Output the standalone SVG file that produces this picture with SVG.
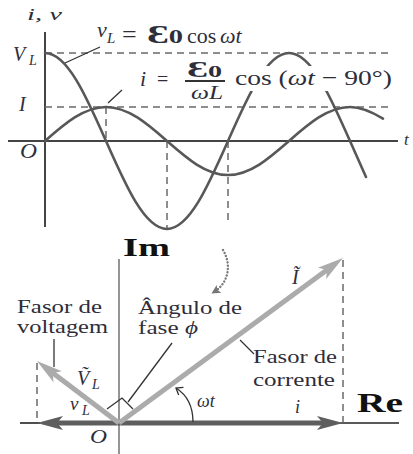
<svg xmlns="http://www.w3.org/2000/svg" width="413" height="454" viewBox="0 0 413 454">
<style>
text{font-family:"Liberation Serif","DejaVu Serif",serif;fill:#2e2e3a}
.it{font-style:italic}
.bd{font-weight:bold}
.ax{stroke:#444;stroke-width:2;fill:none}
.curve{stroke:#585858;stroke-width:2.6;fill:none;stroke-linecap:round}
.dash{stroke:#6a6a6a;stroke-width:1.5;stroke-dasharray:7 5;fill:none}
.lead{stroke:#333;stroke-width:1.3;fill:none}
.ph{stroke:#ababab;stroke-width:5;fill:none}
.re{stroke:#5e5e5e;stroke-width:5;fill:none}
.thin{stroke:#222;stroke-width:1.6;fill:none}
.axim{stroke:#7a7a7a;stroke-width:1.6;fill:none}
</style>
<defs>
<marker id="ahL" viewBox="-12 -8 28 16" markerWidth="28" markerHeight="16" refX="0" refY="0" orient="auto" markerUnits="userSpaceOnUse"><path d="M15,0 L-11,-7 L-5,0 L-11,7 Z" fill="#ababab"/></marker>
<marker id="ahD" viewBox="-12 -8 28 16" markerWidth="28" markerHeight="16" refX="0" refY="0" orient="auto" markerUnits="userSpaceOnUse"><path d="M15,0 L-11,-7 L-5,0 L-11,7 Z" fill="#5e5e5e"/></marker>
<marker id="ahO" viewBox="-8 -6 10 12" markerWidth="10" markerHeight="12" refX="0" refY="0" orient="auto" markerUnits="userSpaceOnUse"><path d="M-6,-4.5 L0,0 L-6,4.5" fill="none" stroke="#333" stroke-width="1.3"/></marker>
<marker id="ahS" viewBox="-8 -6 12 12" markerWidth="12" markerHeight="12" refX="0" refY="0" orient="auto" markerUnits="userSpaceOnUse"><path d="M3,0 L-6,-4.5 L-4,0 L-6,4.5 Z" fill="#777"/></marker>
</defs>

<g id="graph">
  <line class="ax" x1="45" y1="32" x2="45" y2="227"/>
  <line class="ax" x1="8" y1="141" x2="398" y2="141"/>
  <line class="dash" x1="45" y1="53" x2="388" y2="53"/>
  <line class="dash" x1="45" y1="107" x2="388" y2="107"/>
  <line class="dash" x1="106" y1="107" x2="106" y2="141"/>
  <line class="dash" x1="167" y1="141" x2="167" y2="229"/>
  <line class="dash" x1="228" y1="141" x2="228" y2="222"/>
  <path id="vL-curve" class="curve" d="M45,53 C67.08,53 86.11,95.92 106,141 C125.89,186.08 144.92,229 167,229 C189.08,229 208.11,186.08 228,141 C247.89,95.92 266.92,53 289,53 C311.08,53 330.11,95.92 350,141 L366,177"/>
  <path id="i-curve" class="curve" d="M45,141 C64.89,123.58 83.92,107 106,107 C128.08,107 147.11,123.58 167,141 C186.89,158.42 205.92,175 228,175 C250.08,175 269.11,158.42 289,141 C308.89,123.58 327.92,107 350,107 C361,107 372,112 383,118.6"/>
  <rect x="232" y="66" width="163" height="25" fill="#fff"/>
  <line class="lead" x1="65" y1="63" x2="100" y2="47"/>
  <line class="lead" x1="108" y1="103" x2="122" y2="90"/>
  <text class="it" x="27" y="20" font-size="17" textLength="35" lengthAdjust="spacingAndGlyphs">i, v</text>
  <text class="it" font-size="20"><tspan x="13" y="61">V</tspan><tspan x="29" y="65" font-size="14">L</tspan></text>
  <text class="it" x="19" y="111" font-size="20">I</text>
  <text class="it" x="20" y="158" font-size="20" textLength="17" lengthAdjust="spacingAndGlyphs">O</text>
  <text class="it" x="404" y="145" font-size="17">t</text>
  <text font-size="22"><tspan class="it" x="97" y="37">v</tspan><tspan class="it" x="107" y="43" font-size="15">L</tspan><tspan x="122" y="43" font-size="26">=</tspan></text>
  <text class="bd" x="147" y="43" font-size="26" textLength="36" lengthAdjust="spacingAndGlyphs">Ɛ<tspan font-size="18">0</tspan></text>
  <text font-size="22"><tspan x="187" y="43">cos</tspan><tspan class="it" x="220" y="43">ωt</tspan></text>
  <text font-size="22"><tspan class="it" x="140" y="86">i</tspan><tspan x="157" y="86" font-size="20">=</tspan></text>
  <text class="bd" x="187" y="77" font-size="24" textLength="35" lengthAdjust="spacingAndGlyphs">Ɛ<tspan font-size="17">0</tspan></text>
  <line x1="185" y1="81" x2="225" y2="81" stroke="#333" stroke-width="1.8"/>
  <text class="it" x="191" y="99" font-size="18" textLength="32" lengthAdjust="spacingAndGlyphs">ωL</text>
  <text x="235" y="85" font-size="22" textLength="157" lengthAdjust="spacingAndGlyphs">cos (<tspan class="it">ωt</tspan> − 90°)</text>
</g>

<g id="connectors">
  <line class="axim" x1="119" y1="259" x2="119" y2="454"/>
  <line class="thin" x1="20" y1="423" x2="40" y2="423"/>
  <line class="thin" x1="340" y1="423" x2="399" y2="423"/>
  <line class="dash" x1="37" y1="363" x2="37" y2="423"/>
  <line class="dash" x1="343" y1="260" x2="343" y2="423"/>
  <line class="re" x1="119" y1="423" x2="328" y2="423" marker-end="url(#ahD)"/>
  <line class="re" x1="119" y1="423" x2="52" y2="423" marker-end="url(#ahD)"/>
  <line class="ph" x1="119" y1="423" x2="330.9" y2="266.9" marker-end="url(#ahL)"/>
  <line class="ph" x1="119" y1="423" x2="48.9" y2="370.1" marker-end="url(#ahL)"/>
  <polyline class="lead" points="107,409 122,398 133,409"/>
  <line class="lead" x1="172" y1="343" x2="128" y2="402"/>
  <line class="lead" x1="54" y1="339" x2="54" y2="367"/>
  <line class="lead" x1="240" y1="340" x2="254" y2="354"/>
  <path d="M193,422 C193,405 187,395 176,388" class="lead" marker-end="url(#ahO)"/>
  <path d="M223,250 C231,263 230,282 214,292" fill="none" stroke="#7a7a7a" stroke-width="2.4" stroke-linecap="round" stroke-dasharray="0.1 3.2" marker-end="url(#ahS)"/>
</g>

<g id="axis-im"><text class="bd" x="123" y="256" font-size="26" style="fill:#111" textLength="47" lengthAdjust="spacingAndGlyphs">Im</text></g>
<g id="axis-re"><text class="bd" x="357" y="412" font-size="27" style="fill:#111" textLength="46" lengthAdjust="spacingAndGlyphs">Re</text></g>
<g id="origin"><text class="it" x="90" y="443" font-size="19" textLength="17" lengthAdjust="spacingAndGlyphs">O</text></g>
<g id="voltage-phasor">
  <text x="17" y="313" font-size="18" textLength="85" lengthAdjust="spacingAndGlyphs">Fasor de</text>
  <text x="17" y="333" font-size="18" textLength="91" lengthAdjust="spacingAndGlyphs">voltagem</text>
  <text class="it" font-size="20"><tspan x="77" y="385">Ṽ</tspan><tspan x="92" y="389" font-size="14">L</tspan></text>
  <text class="it" font-size="19"><tspan x="70" y="410">v</tspan><tspan x="82" y="415" font-size="14">L</tspan></text>
</g>
<g id="phase-angle">
  <text x="138" y="314" font-size="18" textLength="104" lengthAdjust="spacingAndGlyphs">Ângulo de</text>
  <text x="138" y="334" font-size="18" textLength="60" lengthAdjust="spacingAndGlyphs">fase <tspan class="it">ϕ</tspan></text>
</g>
<g id="current-phasor">
  <text class="it" x="292" y="284" font-size="20">Ĩ</text>
  <text x="253" y="363" font-size="18" textLength="84" lengthAdjust="spacingAndGlyphs">Fasor de</text>
  <text x="253" y="386" font-size="18" textLength="82" lengthAdjust="spacingAndGlyphs">corrente</text>
  <text class="it" x="197" y="407" font-size="18">ωt</text>
  <text class="it" x="295" y="413" font-size="18">i</text>
</g>
</svg>
